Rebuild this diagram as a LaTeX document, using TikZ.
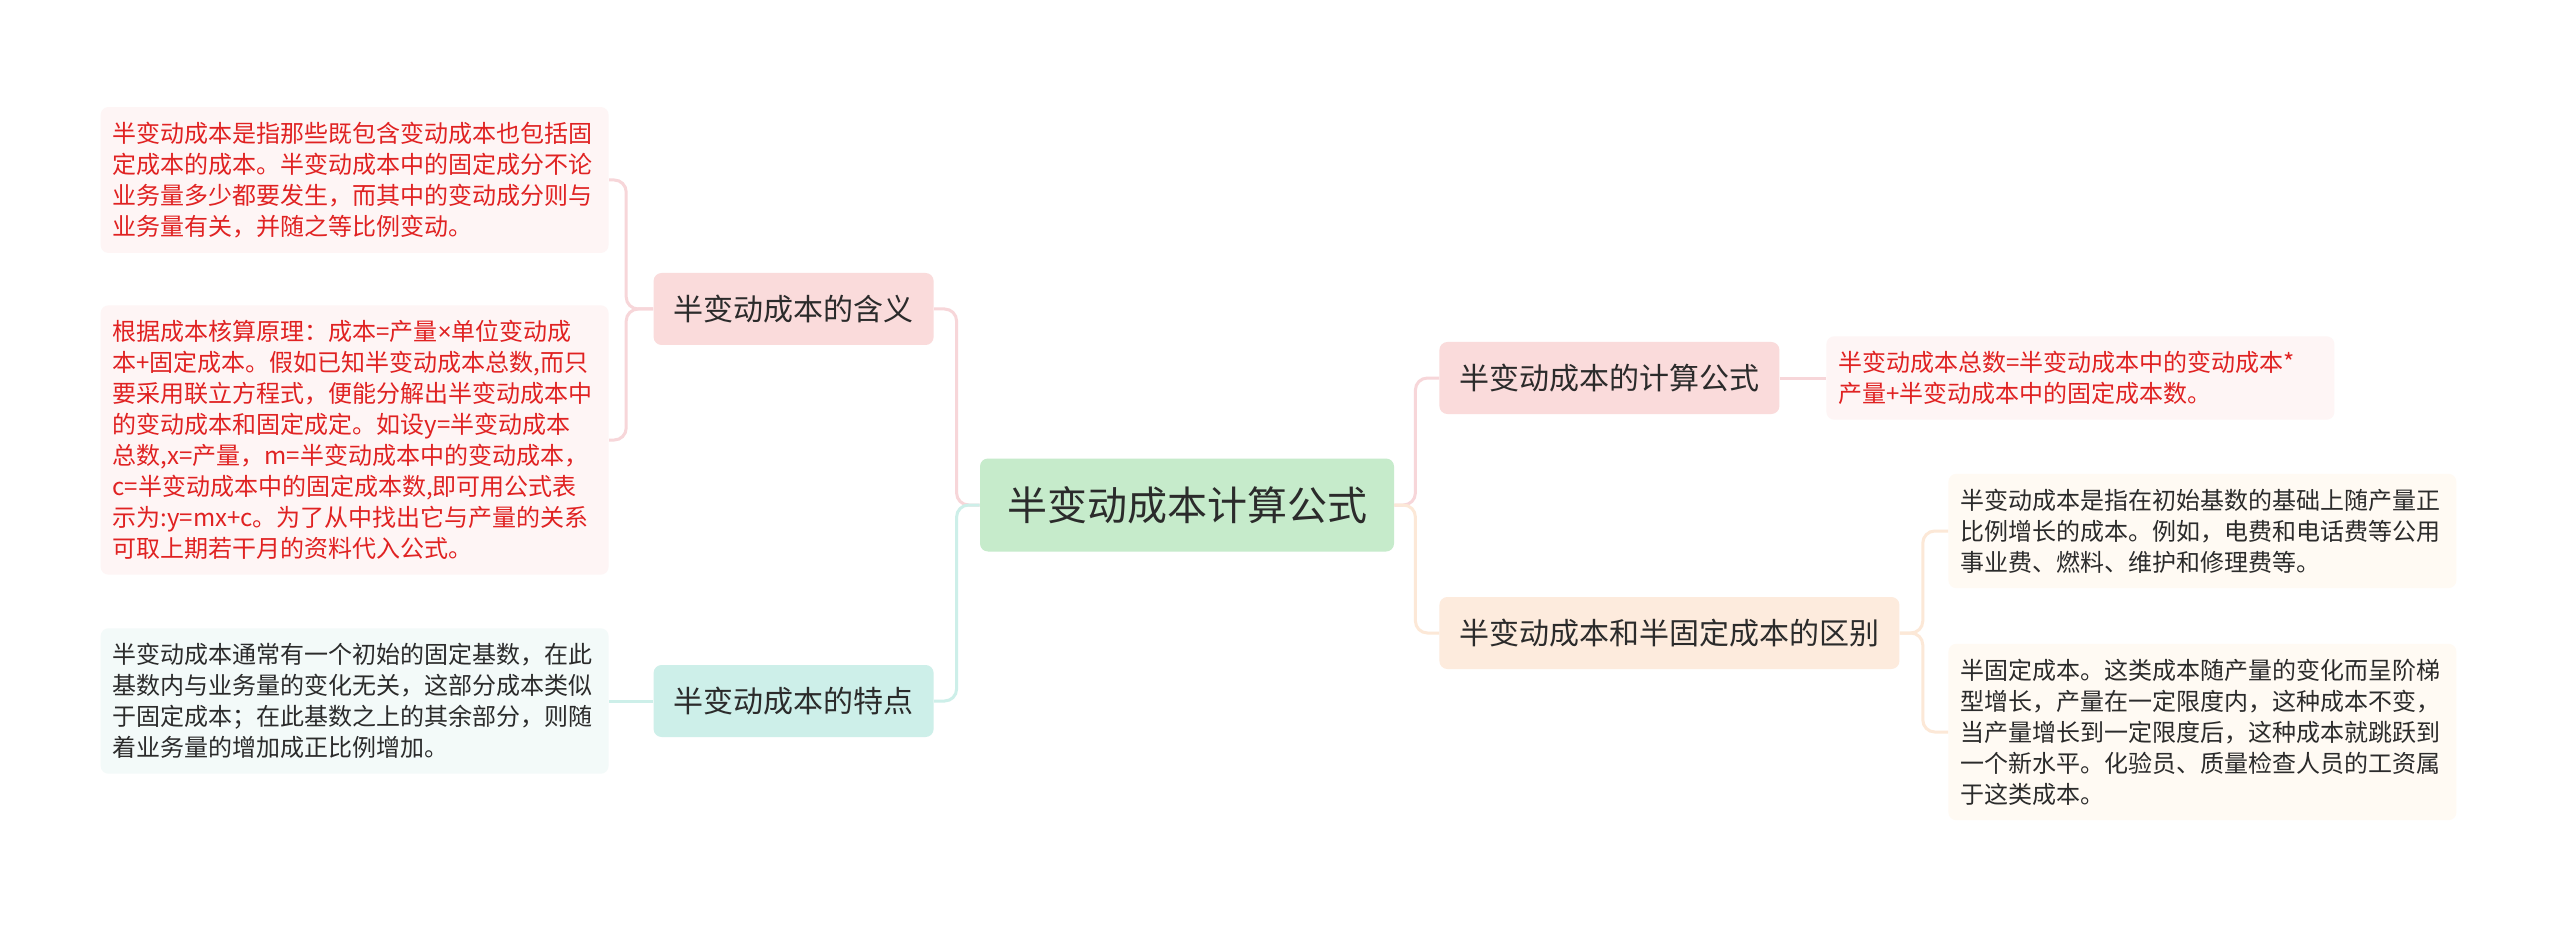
\documentclass[tikz,border=0pt]{standalone}
\usepackage{fontspec}
\setmainfont{Noto Sans CJK SC}
\newfontfamily\latinfont{Noto Sans}
\usetikzlibrary{positioning}

\definecolor{ink}{HTML}{2B2B2B}
\definecolor{redtext}{HTML}{E02222}
\definecolor{rootfill}{HTML}{C6EBCB}
\definecolor{pinkfill}{HTML}{FADBDB}
\definecolor{pinkline}{HTML}{F7D6D9}
\definecolor{pinkleaf}{HTML}{FEF5F5}
\definecolor{tealfill}{HTML}{CDEFE9}
\definecolor{tealline}{HTML}{CDEFE9}
\definecolor{tealleaf}{HTML}{F3FAF9}
\definecolor{peachfill}{HTML}{FDEBDD}
\definecolor{peachline}{HTML}{FCE8D7}
\definecolor{peachleaf}{HTML}{FFFAF3}

\begin{document}
\begin{tikzpicture}[
  x=0.5pt,y=-0.5pt,
  root/.style={rounded corners=4pt, fill=rootfill, text=ink, font=\fontsize{20}{24}\selectfont, minimum width=207pt, minimum height=46.5pt, inner sep=0pt},
  topic/.style={rounded corners=4pt, text=ink, font=\fontsize{15}{18}\selectfont, minimum height=36pt, inner xsep=10pt, inner ysep=0pt},
  leaf/.style={rounded corners=4pt, align=left, text width=242pt, inner xsep=6pt, inner ysep=7.5pt, font=\fontsize{12}{15.5}\selectfont},
  link/.style={line width=1.5pt, rounded corners=6pt}
]
\useasboundingbox (0,0) rectangle (2560,925);
\fill[white] (0,0) rectangle (2560,925);

% centre and main topics
\node[root] (root) at (1187,505) {半变动成本计算公式};
\node[topic, fill=pinkfill, anchor=east] (mean) at (934,309) {半变动成本的含义};
\node[topic, fill=tealfill, anchor=east] (feat) at (934,701) {半变动成本的特点};
\node[topic, fill=pinkfill, anchor=west] (form) at (1439,378) {半变动成本的计算公式};
\node[topic, fill=peachfill, anchor=west] (diff) at (1439,633) {半变动成本和半固定成本的区别};

% left leaves
\node[leaf, fill=pinkleaf, text=redtext, anchor=east] (m1) at (609,180) {半变动成本是指那些既包含变动成本也包括固\\定成本的成本。半变动成本中的固定成分不论\\业务量多少都要发生，而其中的变动成分则与\\业务量有关，并随之等比例变动。};
\node[leaf, fill=pinkleaf, text=redtext, anchor=east] (m2) at (609,440) {根据成本核算原理：成本=产量{\latinfont ×}单位变动成\\本+固定成本。假如已知半变动成本总数,而只\\要采用联立方程式，便能分解出半变动成本中\\的变动成本和固定成定。如设y=半变动成本\\总数,x=产量，m=半变动成本中的变动成本，\\c=半变动成本中的固定成本数,即可用公式表\\示为:y=mx+c。为了从中找出它与产量的关系\\可取上期若干月的资料代入公式。};
\node[leaf, fill=tealleaf, text=ink, anchor=east] (f1) at (609,701) {半变动成本通常有一个初始的固定基数，在此\\基数内与业务量的变化无关，这部分成本类似\\于固定成本；在此基数之上的其余部分，则随\\着业务量的增加成正比例增加。};

% right leaves
\node[leaf, fill=pinkleaf, text=redtext, anchor=west] (c1) at (1826,378) {半变动成本总数=半变动成本中的变动成本*\\产量+半变动成本中的固定成本数。};
\node[leaf, fill=peachleaf, text=ink, anchor=west] (d1) at (1948,531) {半变动成本是指在初始基数的基础上随产量正\\比例增长的成本。例如，电费和电话费等公用\\事业费、燃料、维护和修理费等。};
\node[leaf, fill=peachleaf, text=ink, anchor=west] (d2) at (1948,732) {半固定成本。这类成本随产量的变化而呈阶梯\\型增长，产量在一定限度内，这种成本不变，\\当产量增长到一定限度后，这种成本就跳跃到\\一个新水平。化验员、质量检查人员的工资属\\于这类成本。};

% connectors
\draw[link, pinkline] (root.west) -- ++(-23,0) |- (mean.east);
\draw[link, tealline] (root.west) -- ++(-23,0) |- (feat.east);
\draw[link, pinkline] (root.east) -- ++(21,0) |- (form.west);
\draw[link, peachline] (root.east) -- ++(21,0) |- (diff.west);
\foreach \x in {m1,m2}{\draw[link, pinkline] (mean.west) -- ++(-27,0) |- (\x.east);}
\draw[link, tealline] (feat.west) -- (f1.east |- feat.west);
\draw[link, pinkline] (form.east) -- (c1.west |- form.east);
\foreach \x in {d1,d2}{\draw[link, peachline] (diff.east) -- ++(23,0) |- (\x.west);}
\end{tikzpicture}
\end{document}
